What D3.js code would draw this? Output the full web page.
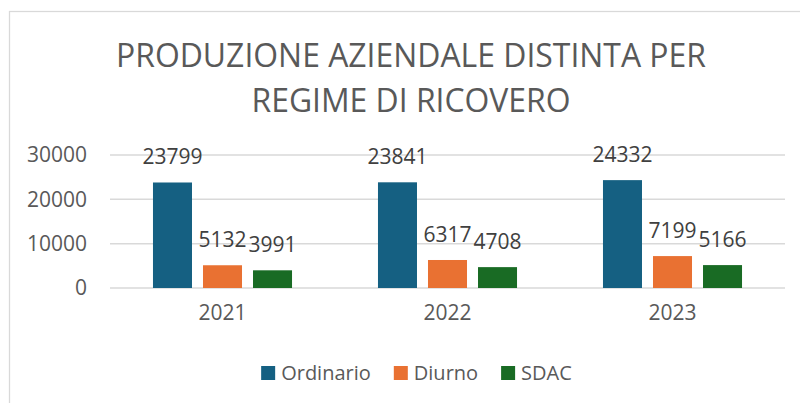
<!DOCTYPE html>
<html>
<head>
<meta charset="utf-8">
<script src="https://cdn.jsdelivr.net/npm/d3@7"></script>
<style>
    body { margin: 0; background: #fff; }
    svg text { font-family: "Open Sans", "Noto Sans", sans-serif; }
</style>
</head>
<body>
<svg id="chart" width="800" height="403"></svg>
<script>
// chart data
let years = ["2021", "2022", "2023"];
let seriesNames = ["Ordinario", "Diurno", "SDAC"];
let ordinario = [23799, 23841, 24332];
let diurno = [5132, 6317, 7199];
let sdac = [3991, 4708, 5166];
let yTicks = [0, 10000, 20000, 30000];
let titleLines = ["PRODUZIONE AZIENDALE DISTINTA PER", "REGIME DI RICOVERO"];

let colors = {"Ordinario": "#156082", "Diurno": "#E97132", "SDAC": "#196B24"};
let seriesValues = {"Ordinario": ordinario, "Diurno": diurno, "SDAC": sdac};

let svg = d3.select("#chart");

// chart area frame
svg.append("rect").attr("x", 9.5).attr("y", 11.5).attr("width", 820).attr("height", 420)
    .attr("fill", "#fff").attr("stroke", "#d9d9d9").attr("stroke-width", 1.25);

// title
let titleSpec = [{y: 67, w: 590}, {y: 112, w: 319}];
titleLines.forEach((t, i) => {
    svg.append("text").attr("x", 411).attr("y", titleSpec[i].y).attr("text-anchor", "middle")
        .attr("font-size", 33).attr("fill", "#595959")
        .attr("textLength", titleSpec[i].w).attr("lengthAdjust", "spacingAndGlyphs")
        .text(t);
});

let x0 = d3.scaleBand().domain(years).range([110, 785]).paddingInner(0.382).paddingOuter(0.191);
let x1 = d3.scaleBand().domain(seriesNames).range([0, x0.bandwidth()]).paddingInner(0.22).paddingOuter(0);
let y = d3.scaleLinear().domain([0, 30000]).range([288, 155]);

// gridlines
svg.append("g").selectAll("line").data(yTicks).join("line")
    .attr("x1", 110).attr("x2", 785)
    .attr("y1", d => y(d)).attr("y2", d => y(d))
    .attr("stroke", "#d9d9d9").attr("stroke-width", 1.5);

// y axis labels
let yAxis = svg.append("g").attr("transform", "translate(110,0)")
    .call(d3.axisLeft(y).tickValues(yTicks).tickSize(0).tickPadding(23).tickFormat(d3.format("d")));
yAxis.select(".domain").remove();
yAxis.selectAll("text").attr("font-size", 21).attr("fill", "#595959")
    .attr("font-family", "'Open Sans', 'Noto Sans', sans-serif");

// x axis labels
let xAxis = svg.append("g").attr("transform", "translate(0,288)")
    .call(d3.axisBottom(x0).tickSize(0).tickPadding(17));
xAxis.select(".domain").remove();
xAxis.selectAll("text").attr("font-size", 21).attr("fill", "#595959")
    .attr("font-family", "'Open Sans', 'Noto Sans', sans-serif");

// bars
let groups = svg.append("g").selectAll("g").data(years).join("g")
    .attr("transform", d => "translate(" + x0(d) + ",0)");

let barData = (yr, i) => seriesNames.map(s => ({series: s, value: seriesValues[s][i]}));

groups.selectAll("rect").data((d, i) => barData(d, i)).join("rect")
    .attr("x", d => x1(d.series)).attr("width", x1.bandwidth())
    .attr("y", d => y(d.value)).attr("height", d => y(0) - y(d.value))
    .attr("fill", d => colors[d.series]);

groups.selectAll("text").data((d, i) => barData(d, i)).join("text")
    .attr("x", d => x1(d.series) + x1.bandwidth() / 2)
    .attr("y", d => y(d.value) - 18)
    .attr("text-anchor", "middle").attr("font-size", 21).attr("fill", "#404040")
    .text(d => d.value);

// legend
let legend = svg.append("g");
let items = legend.selectAll("g").data(seriesNames).join("g");
items.append("rect").attr("width", 14).attr("height", 14).attr("y", 366)
    .attr("fill", d => colors[d]);
items.append("text").attr("x", 20).attr("y", 380).attr("font-size", 20).attr("fill", "#595959")
    .text(d => d);
let offsets = [];
let cursor = 0;
items.each(function(d) {
    offsets.push(cursor);
    let w = d3.select(this).select("text").node().getComputedTextLength();
    cursor += 20 + w + 23;
});
let totalW = cursor - 23;
let startX = 416.5 - totalW / 2;
items.attr("transform", (d, i) => "translate(" + (startX + offsets[i]) + ",0)");
</script>
</body>
</html>
